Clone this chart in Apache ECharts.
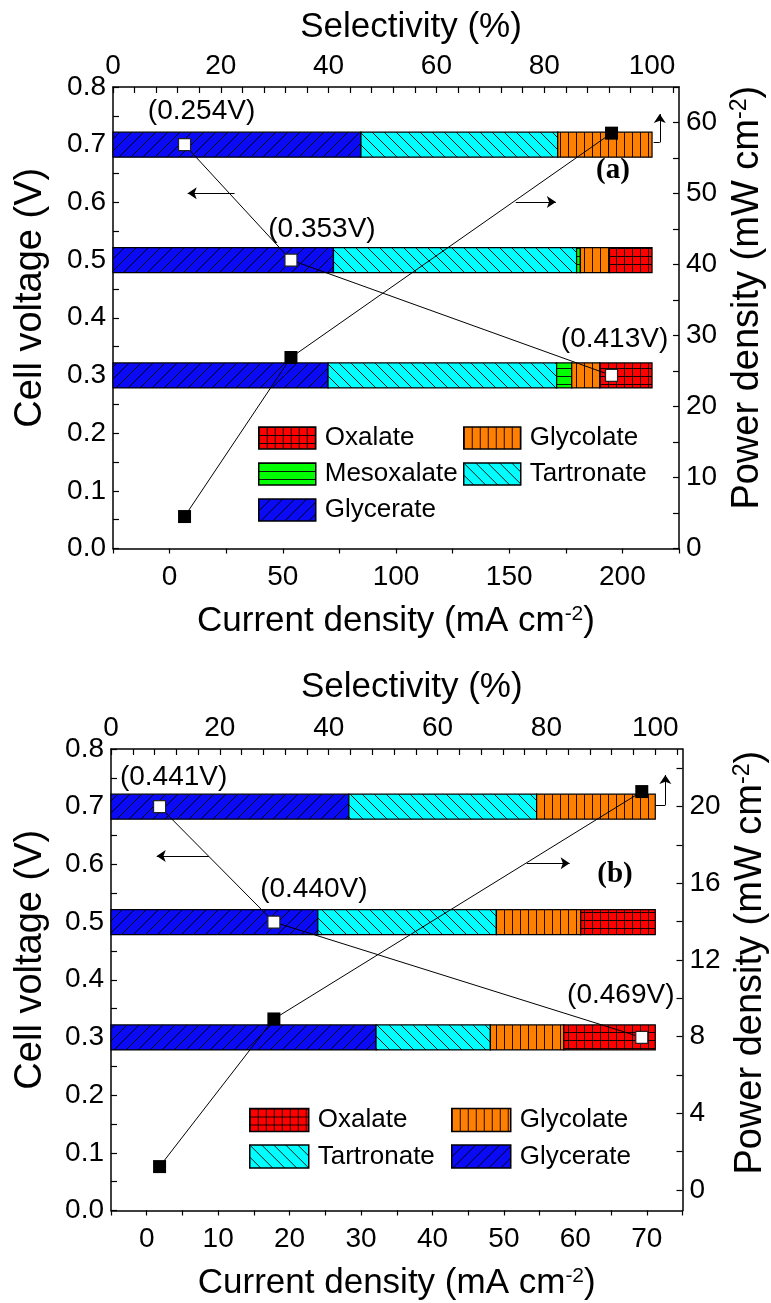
<!DOCTYPE html>
<html><head><meta charset="utf-8">
<script src="https://cdn.jsdelivr.net/npm/echarts@6.0.0/dist/echarts.min.js"></script>
<style>html,body{margin:0;padding:0;background:#fff}#chart{width:771px;height:1303px}</style>
</head><body><div id="chart"></div>
<script>
// ================= DATA =================
const voltageLevels = [0.3, 0.5, 0.7];            // cell voltage of each bar (V)
// panel (a): product selectivity (%) at 0.3 / 0.5 / 0.7 V
const selA_Glycerate  = [39.9, 40.9, 46.0];
const selA_Tartronate = [42.4, 45.1, 36.5];
const selA_Mesoxalate = [2.8, 0.7, 0];
const selA_Glycolate  = [5.2, 5.4, 17.5];
const selA_Oxalate    = [9.7, 7.9, 0];
// panel (a): polarisation / power points
const currentA = [195.2, 53.6, 6.6];               // mA cm-2
const powerA   = [58.5, 26.9, 4.5];                // mW cm-2
const anodeLabelsA = ['(0.413V)', '(0.353V)', '(0.254V)'];
// panel (b)
const selB_Glycerate  = [48.7, 38.0, 43.7];
const selB_Tartronate = [21.0, 32.8, 34.5];
const selB_Glycolate  = [13.5, 15.5, 21.8];
const selB_Oxalate    = [16.8, 13.7, 0];
const currentB = [69.3, 17.8, 1.8];
const powerB   = [20.78, 8.92, 1.22];
const anodeLabelsB = ['(0.469V)', '(0.440V)', '(0.441V)'];
// tick labels
const selectivityTicks = [0, 20, 40, 60, 80, 100];
const voltageTicks = [0, 0.1, 0.2, 0.3, 0.4, 0.5, 0.6, 0.7, 0.8];
const currentTicksA = [0, 50, 100, 150, 200];
const powerTicksA = [0, 10, 20, 30, 40, 50, 60];
const currentTicksB = [0, 10, 20, 30, 40, 50, 60, 70];
const powerTicksB = [0, 4, 8, 12, 16, 20];

// ================= LAYOUT / STYLE =================
const FONT = '"Liberation Sans", Arial, Helvetica, sans-serif';
const BAR_H = 0.0433;  // bar thickness in volts
const labelOffsetA = [[3, -36], [31, -31], [17, -33]];
const labelOffsetB = [[-21, -42], [40, -33], [14, -29]];
// annotation arrows in data coordinates [x1,y1,x2,y2,arrow?]
const arrowsVoltA = [[28.7, 0.616, 8.0, 0.616, true], [213.8, 0.704, 216.5, 0.704, false], [216.5, 0.704, 216.5, 0.753, true]];
const arrowsPowA  = [[152.9, 48.8, 170.6, 48.8, true]];
const arrowsVoltB = [[8.7, 0.6146, 1.4, 0.6146, true], [71.2, 0.703, 72.6, 0.703, false], [72.6, 0.703, 72.6, 0.755, true]];
const arrowsPowB  = [[53.2, 17.04, 59.2, 17.04, true]];

function range(a, b, s) { const r = []; for (let v = a; v <= b + 1e-9; v += s) r.push(Math.round(v * 1000) / 1000); return r; }

function makePattern(bg, draw, w, h) {
  const c = document.createElement('canvas'); c.width = w; c.height = h;
  const g = c.getContext('2d'); g.fillStyle = bg; g.fillRect(0, 0, w, h);
  g.strokeStyle = 'rgba(0,0,0,0.9)'; g.lineWidth = 1; g.beginPath(); draw(g, w, h); g.stroke();
  return { image: c, repeat: 'repeat' };
}
const patterns = {
  Glycerate: makePattern('#0a0af5', (g, w, h) => { g.moveTo(0, h); g.lineTo(w, 0); g.moveTo(-1, 1); g.lineTo(1, -1); g.moveTo(w - 1, h + 1); g.lineTo(w + 1, h - 1); }, 12, 12),
  Tartronate: makePattern('#00ffff', (g, w, h) => { g.moveTo(0, 0); g.lineTo(w, h); g.moveTo(w - 1, -1); g.lineTo(w + 1, 1); g.moveTo(-1, h - 1); g.lineTo(1, h + 1); }, 12, 12),
  Mesoxalate: makePattern('#00ff00', (g, w, h) => { g.moveTo(0, 0.5); g.lineTo(w, 0.5); }, 8, 8),
  Glycolate: makePattern('#ff8000', (g, w, h) => { g.moveTo(0.5, 0); g.lineTo(0.5, h); }, 8, 8),
  Oxalate: makePattern('#ff0000', (g, w, h) => { g.moveTo(0.5, 0); g.lineTo(0.5, h); g.moveTo(0, 0.5); g.lineTo(w, 0.5); }, 8, 8)
};

function barSeries(name, lists, idx, axisIdx) {
  let data = [];
  voltageLevels.forEach((v, i) => {
    let start = 0;
    for (let k = 0; k < idx; k++) start += lists[k][i];
    const val = lists[idx][i];
    if (val > 0) data.push([start, start + val, v]);
  });
  const pat = patterns[name];
  return {
    type: 'custom', name: name, xAxisIndex: axisIdx * 2 + 1, yAxisIndex: axisIdx * 2, z: 2,
    itemStyle: { color: pat, borderColor: '#000', borderWidth: 1.2 },
    encode: { x: [0, 1], y: 2 }, silent: true, animation: false,
    renderItem: function (params, api) {
      const p0 = api.coord([api.value(0), api.value(2)]);
      const p1 = api.coord([api.value(1), api.value(2)]);
      const h = api.size([0, BAR_H])[1];
      return { type: 'rect', shape: { x: p0[0], y: p0[1] - h / 2, width: p1[0] - p0[0], height: h },
        style: { fill: pat, stroke: '#000', lineWidth: 1.2 } };
    },
    data: data
  };
}

function arrowData(list) {
  return list.map(a => [
    { coord: [a[0], a[1]], symbol: 'none' },
    { coord: [a[2], a[3]], symbol: a[4] ? 'arrow' : 'none' }
  ]);
}
function markLineOf(list) {
  return { silent: true, symbolSize: 9, animation: false, label: { show: false },
    lineStyle: { color: '#000', width: 1, type: 'solid' }, emphasis: { disabled: true },
    data: arrowData(list) };
}

function voltSeries(currents, labels, offsets, gi, arrows) {
  return {
    type: 'line', xAxisIndex: gi * 2, yAxisIndex: gi * 2, z: 5, animation: false, silent: true,
    symbol: 'rect', symbolSize: 12,
    itemStyle: { color: '#fff', borderColor: '#222', borderWidth: 1.2 },
    lineStyle: { color: '#000', width: 1 },
    label: { show: true, position: 'inside', fontSize: 28, fontFamily: FONT, color: '#000' },
    data: currents.map((c, i) => ({ value: [c, voltageLevels[i]], label: { formatter: labels[i], offset: offsets[i] } })),
    markLine: markLineOf(arrows)
  };
}
function powerSeries(currents, powers, gi, arrows) {
  return {
    type: 'line', xAxisIndex: gi * 2, yAxisIndex: gi * 2 + 1, z: 6, animation: false, silent: true,
    symbol: 'rect', symbolSize: 13,
    itemStyle: { color: '#000' }, lineStyle: { color: '#000', width: 1 },
    data: currents.map((c, i) => [c, powers[i]]),
    markLine: markLineOf(arrows)
  };
}

const axisLineStyle = { show: true, onZero: false, lineStyle: { color: '#000', width: 1.5 } };
function mkAxis(o) {
  const nfs = o.nameSize || 35;
  return {
    type: 'value', gridIndex: o.grid, position: o.position, min: o.min, max: o.max,
    name: o.name, nameLocation: 'middle', nameGap: o.nameGap,
    nameTextStyle: { color: '#000', fontSize: nfs, fontFamily: FONT, padding: o.namePad || 0,
      rich: { sup: { fontSize: Math.round(nfs * 0.6), fontFamily: FONT, color: '#000', verticalAlign: 'top' } } },
    axisLine: axisLineStyle,
    axisTick: { show: true, inside: o.inside, length: o.tickLen || 6, lineStyle: { color: '#000', width: 1.2 }, customValues: o.ticks },
    minorTick: { show: false },
    axisLabel: { show: true, color: '#000', fontSize: 28, fontFamily: FONT, margin: o.margin, customValues: o.labels,
      formatter: o.fmt || (v => String(v)) },
    splitLine: { show: false }
  };
}

const shiftPad = [0, 0, 0, 40];  // moves rotated names up / top names right
const option = {
  animation: false,
  backgroundColor: '#fff',
  textStyle: { fontFamily: FONT },
  grid: [
    { left: 113, right: 92, top: 87, height: 461.5, outerBoundsMode: 'none', containLabel: false },
    { left: 111, right: 88.5, top: 749, height: 461.5, outerBoundsMode: 'none', containLabel: false }
  ],
  xAxis: [
    mkAxis({ grid: 0, position: 'bottom', min: -25, max: 225, name: 'Current density (mA cm{sup|-2})', nameGap: 55, inside: false, tickLen: 5, margin: 15, labels: currentTicksA, ticks: range(-25, 225, 25) }),
    mkAxis({ grid: 0, position: 'top', min: 0, max: 105, name: 'Selectivity (%)', nameGap: 42, namePad: [0, 0, 0, 30], inside: true, tickLen: 6, margin: 7, labels: selectivityTicks, ticks: range(0, 104, 4) }),
    mkAxis({ grid: 1, position: 'bottom', min: -5, max: 75, name: 'Current density (mA cm{sup|-2})', nameGap: 55, inside: false, tickLen: 5, margin: 15, labels: currentTicksB, ticks: range(-5, 75, 5) }),
    mkAxis({ grid: 1, position: 'top', min: 0, max: 105, name: 'Selectivity (%)', nameGap: 44, namePad: [0, 0, 0, 30], inside: true, tickLen: 6, margin: 7, labels: selectivityTicks, ticks: range(0, 104, 4) })
  ],
  yAxis: [
    mkAxis({ grid: 0, position: 'left', min: 0, max: 0.8, name: 'Cell voltage (V)', nameSize: 38, nameGap: 63, namePad: shiftPad, inside: true, tickLen: 6, margin: 7, labels: voltageTicks, ticks: range(0, 0.8, 0.05), fmt: v => v.toFixed(1) }),
    mkAxis({ grid: 0, position: 'right', min: 0, max: 65, name: 'Power density (mW cm{sup|-2})', nameSize: 38, nameGap: 46, namePad: shiftPad, inside: true, tickLen: 6, margin: 7, labels: powerTicksA, ticks: range(0, 65, 5) }),
    mkAxis({ grid: 1, position: 'left', min: 0, max: 0.8, name: 'Cell voltage (V)', nameSize: 38, nameGap: 61, namePad: shiftPad, inside: true, tickLen: 6, margin: 7, labels: voltageTicks, ticks: range(0, 0.8, 0.05), fmt: v => v.toFixed(1) }),
    mkAxis({ grid: 1, position: 'right', min: -1.07, max: 23.0, name: 'Power density (mW cm{sup|-2})', nameSize: 38, nameGap: 44, namePad: [0, 0, 0, 34], inside: true, tickLen: 6, margin: 7, labels: powerTicksB, ticks: range(0, 22, 2) })
  ],
  legend: [
    { data: ['Oxalate', 'Mesoxalate', 'Glycerate'], orient: 'vertical', left: 258, top: 425 },
    { data: ['Glycolate', 'Tartronate'], orient: 'vertical', left: 463, top: 425 },
    { data: ['Oxalate', 'Tartronate'], orient: 'vertical', left: 249, top: 1107, itemWidth: 59, itemHeight: 23, itemGap: 10.5 },
    { data: ['Glycolate', 'Glycerate'], orient: 'vertical', left: 451, top: 1107, itemWidth: 59, itemHeight: 23, itemGap: 10.5 }
  ].map(l => Object.assign({ padding: 0, itemWidth: 57, itemHeight: 22, itemGap: 10, icon: 'rect', selectedMode: false,
    itemStyle: { borderColor: '#000', borderWidth: 1.5 },
    textStyle: { fontSize: 26, color: '#000', fontFamily: FONT, padding: [0, 0, 0, 4] } }, l)),
  graphic: [
    { type: 'text', x: 613, y: 171, style: { text: '(a)', font: 'bold 29px "Liberation Serif", "Times New Roman", serif', fill: '#000', align: 'center', verticalAlign: 'middle' } },
    { type: 'text', x: 615, y: 875, style: { text: '(b)', font: 'bold 29px "Liberation Serif", "Times New Roman", serif', fill: '#000', align: 'center', verticalAlign: 'middle' } }
  ],
  series: []
};

const listsA = [selA_Glycerate, selA_Tartronate, selA_Mesoxalate, selA_Glycolate, selA_Oxalate];
const namesA = ['Glycerate', 'Tartronate', 'Mesoxalate', 'Glycolate', 'Oxalate'];
namesA.forEach((n, i) => option.series.push(barSeries(n, listsA, i, 0)));
const listsB = [selB_Glycerate, selB_Tartronate, selB_Glycolate, selB_Oxalate];
const namesB = ['Glycerate', 'Tartronate', 'Glycolate', 'Oxalate'];
namesB.forEach((n, i) => option.series.push(barSeries(n, listsB, i, 1)));
option.series.push(voltSeries(currentA, anodeLabelsA, labelOffsetA, 0, arrowsVoltA));
option.series.push(powerSeries(currentA, powerA, 0, arrowsPowA));
option.series.push(voltSeries(currentB, anodeLabelsB, labelOffsetB, 1, arrowsVoltB));
option.series.push(powerSeries(currentB, powerB, 1, arrowsPowB));

const chart = echarts.init(document.getElementById('chart'), null, { renderer: 'canvas' });
chart.setOption(option);
</script></body></html>
